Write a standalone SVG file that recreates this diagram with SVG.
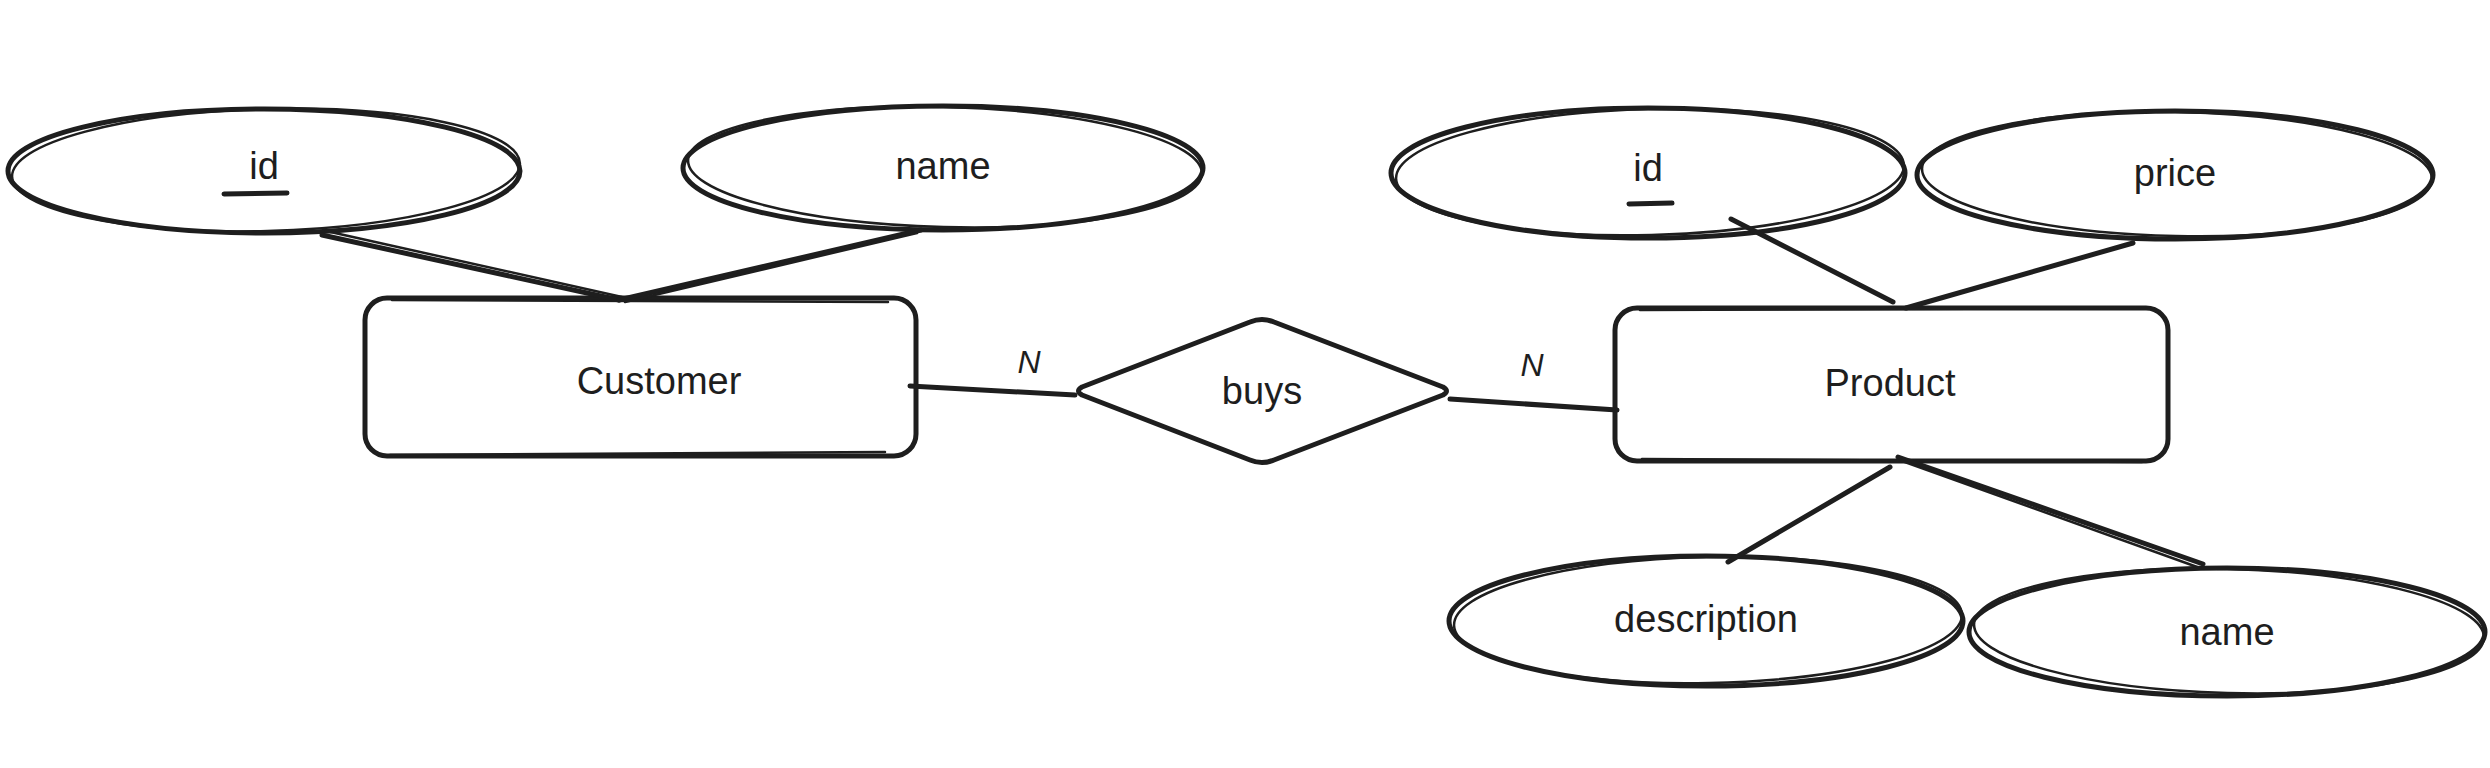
<svg xmlns="http://www.w3.org/2000/svg" width="2490" height="768" viewBox="0 0 2490 768">
<style>
.s{fill:none;stroke:#1e1e1e;stroke-width:5;stroke-linecap:round;stroke-linejoin:round}
.s2{fill:none;stroke:#1e1e1e;stroke-width:2.5;stroke-linecap:round;stroke-linejoin:round}
.bg{fill:#ffffff}
.t{font-family:"Liberation Sans",Arial,sans-serif;font-size:38px;fill:#1e1e1e;text-anchor:middle;dominant-baseline:central}
.n{font-family:"Liberation Sans",Arial,sans-serif;font-size:32px;font-style:italic;fill:#1e1e1e;text-anchor:middle;dominant-baseline:central}
.u{stroke:#1e1e1e;stroke-width:5;stroke-linecap:round}
</style>
<rect width="2490" height="768" fill="#ffffff"/>
<g id="customer">
<rect class="s bg" x="365" y="298" width="551" height="158" rx="22"/>
<path class="s2" d="M392 300 L888 302 M390 455 L885 452"/>
<text class="t" x="659" y="381">Customer</text>
</g>
<g id="product">
<rect class="s bg" x="1615" y="308" width="553" height="153" rx="22"/>
<path class="s2" d="M1640 310 L2140 308 M1642 459 L2142 462"/>
<text class="t" x="1890" y="383">Product</text>
</g>
<g id="buys">
<path class="s bg" d="M1082 387 L1250 322 Q1262 317 1274 322 L1443 387 Q1450 391 1443 395 L1274 460 Q1262 465 1250 460 L1082 395 Q1075 391 1082 387 Z"/>
<text class="t" x="1262" y="391">buys</text>
</g>
<g id="customer-id">
<ellipse class="s bg" cx="264" cy="171" rx="256" ry="62"/>
<ellipse class="s2" cx="266" cy="170" rx="254" ry="61" transform="rotate(-1.5 266 170)"/>
<text class="t" x="264" y="166">id</text>
<line class="u" x1="224" y1="194" x2="287" y2="193"/>
</g>
<g id="customer-name">
<ellipse class="s bg" cx="943" cy="168" rx="260" ry="62"/>
<ellipse class="s2" cx="945" cy="167" rx="257" ry="60" transform="rotate(1.5 945 167)"/>
<text class="t" x="943" y="166">name</text>
</g>
<g id="product-id">
<ellipse class="s bg" cx="1648" cy="173" rx="257" ry="65"/>
<ellipse class="s2" cx="1650" cy="172" rx="254" ry="63" transform="rotate(-1.5 1650 172)"/>
<text class="t" x="1648" y="168">id</text>
<line class="u" x1="1629" y1="204" x2="1672" y2="203"/>
</g>
<g id="product-price">
<ellipse class="s bg" cx="2175" cy="175" rx="258" ry="64"/>
<ellipse class="s2" cx="2177" cy="174" rx="255" ry="62" transform="rotate(1.2 2177 174)"/>
<text class="t" x="2175" y="173">price</text>
</g>
<g id="product-description">
<ellipse class="s bg" cx="1706" cy="621" rx="257" ry="65"/>
<ellipse class="s2" cx="1708" cy="620" rx="254" ry="63" transform="rotate(-1.2 1708 620)"/>
<text class="t" x="1706" y="619">description</text>
</g>
<g id="product-name">
<ellipse class="s bg" cx="2227" cy="632" rx="258" ry="64"/>
<ellipse class="s2" cx="2229" cy="631" rx="255" ry="62" transform="rotate(1.5 2229 631)"/>
<text class="t" x="2227" y="632">name</text>
</g>
<g id="connectors">
<line class="s" x1="322" y1="235" x2="619" y2="300"/>
<line class="s2" x1="326" y1="231" x2="622" y2="297"/>
<line class="s" x1="921" y1="230" x2="619" y2="300"/>
<line class="s2" x1="917" y1="233" x2="625" y2="302"/>
<line class="s" x1="910" y1="386" x2="1075" y2="395"/>
<line class="s" x1="1450" y1="399" x2="1617" y2="410"/>
<line class="s" x1="1731" y1="219" x2="1893" y2="302"/>
<line class="s" x1="2133" y1="243" x2="1906" y2="308"/>
<line class="s" x1="1890" y1="467" x2="1728" y2="562"/>
<line class="s" x1="1898" y1="457" x2="2203" y2="564"/>
<line class="s2" x1="1902" y1="461" x2="2200" y2="568"/>
<text class="n" x="1029" y="362">N</text>
<text class="n" x="1532" y="365">N</text>
</g>
</svg>
